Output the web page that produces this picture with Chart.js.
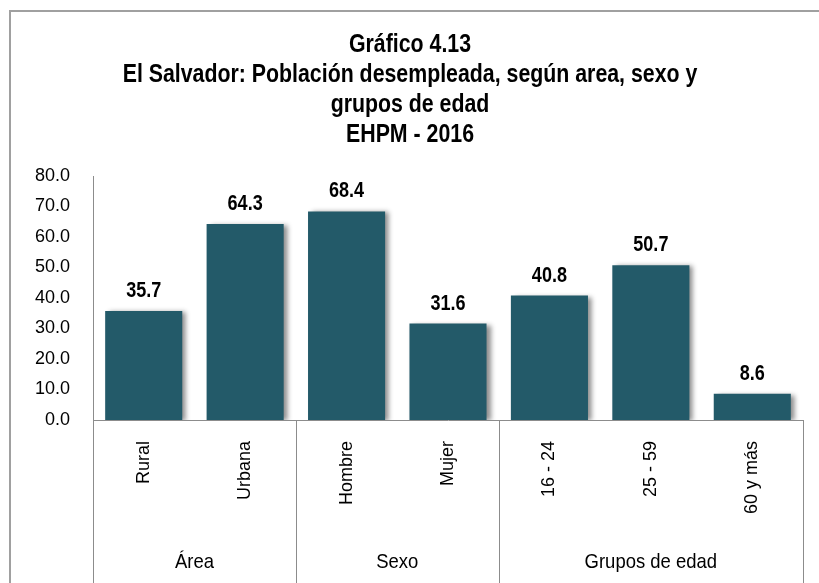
<!DOCTYPE html>
<html>
<head>
<meta charset="utf-8">
<script src="https://cdn.jsdelivr.net/npm/chart.js@4.4.1/dist/chart.umd.min.js"></script>
<style>
html,body{margin:0;padding:0;background:#fff;}
#wrap{position:relative;width:819px;height:583px;}
</style>
</head>
<body>
<div id="wrap"><canvas id="c" width="819" height="583"></canvas></div>
<script>
const categories = ["Rural", "Urbana", "Hombre", "Mujer", "16 - 24", "25 - 59", "60 y más"];
const values = [35.7, 64.3, 68.4, 31.6, 40.8, 50.7, 8.6];
const groupNames = ["Área", "Sexo", "Grupos de edad"];
const groupSizes = [2, 2, 3];
const titleLines = ["Gráfico 4.13", "El Salvador: Población desempleada, según area, sexo y", "grupos de edad", "EHPM - 2016"];

const SANS = "'Liberation Sans', Arial, sans-serif";
const AXIS_GRAY = '#8c8c8c';

function narrowText(ctx, text, x, y, font, sx) {
  ctx.save();
  ctx.font = font;
  ctx.translate(x, y);
  ctx.scale(sx, 1);
  ctx.fillText(text, 0, 0);
  ctx.restore();
}

const frame = {
  id: 'frame',
  beforeDraw(chart) {
    const ctx = chart.ctx;
    ctx.save();
    ctx.strokeStyle = '#a0a0a0';
    ctx.lineWidth = 2;
    ctx.strokeRect(10, 11, 830, 620);
    ctx.fillStyle = '#000';
    ctx.textAlign = 'center';
    ctx.textBaseline = 'alphabetic';
    const baselines = [52, 82, 112, 142];
    titleLines.forEach((t, i) => {
      narrowText(ctx, t, 410, baselines[i], "bold 26px " + SANS, 0.82);
    });
    ctx.restore();
  }
};

const shadow = {
  id: 'shadow',
  beforeDatasetsDraw(chart) {
    const ctx = chart.ctx;
    ctx.save();
    ctx.shadowColor = 'rgba(0,0,0,0.45)';
    ctx.shadowBlur = 5;
    ctx.shadowOffsetX = 4;
    ctx.shadowOffsetY = 1;
  },
  afterDatasetsDraw(chart) {
    chart.ctx.restore();
    const ctx = chart.ctx;
    const meta = chart.getDatasetMeta(0);
    ctx.save();
    ctx.fillStyle = '#000';
    ctx.textAlign = 'center';
    ctx.textBaseline = 'alphabetic';
    meta.data.forEach((bar, i) => {
      narrowText(ctx, values[i].toFixed(1), bar.x, bar.y - 14, "bold 22px " + SANS, 0.82);
    });
    ctx.restore();
  }
};

const groups = {
  id: 'groups',
  afterDraw(chart) {
    const ctx = chart.ctx;
    const xs = chart.scales.x;
    const area = chart.chartArea;
    const step = xs.getPixelForValue(1) - xs.getPixelForValue(0);
    ctx.save();
    ctx.strokeStyle = AXIS_GRAY;
    ctx.lineWidth = 1;
    let idx = 0;
    const bottom = chart.height;
    const bounds = [];
    groupSizes.forEach((n, g) => {
      const x0 = xs.getPixelForValue(idx) - step / 2;
      const x1 = xs.getPixelForValue(idx + n - 1) + step / 2;
      bounds.push(x0);
      if (g === groupSizes.length - 1) bounds.push(x1);
      ctx.fillStyle = '#000';
      ctx.textAlign = 'center';
      ctx.textBaseline = 'alphabetic';
      narrowText(ctx, groupNames[g], (x0 + x1) / 2, 568, "21px " + SANS, 0.88);
      idx += n;
    });
    bounds.forEach(b => {
      const xx = Math.round(b) + 0.5;
      ctx.beginPath();
      ctx.moveTo(xx, area.bottom);
      ctx.lineTo(xx, bottom);
      ctx.stroke();
    });
    ctx.restore();
  }
};

new Chart(document.getElementById('c'), {
  type: 'bar',
  data: {
    labels: categories,
    datasets: [{
      data: values,
      backgroundColor: '#235a69',
      borderWidth: 0,
      barPercentage: 0.76,
      categoryPercentage: 1.0
    }]
  },
  options: {
    responsive: false,
    animation: false,
    devicePixelRatio: 1,
    layout: { padding: { left: 0, right: 16, top: 176, bottom: 0 } },
    plugins: {
      legend: { display: false },
      tooltip: { enabled: false },
      title: { display: false }
    },
    scales: {
      x: {
        grid: { display: false, drawTicks: false },
        border: { display: true, color: AXIS_GRAY, width: 1 },
        ticks: {
          minRotation: 90, maxRotation: 90, autoSkip: false,
          padding: 21,
          color: '#000',
          font: { family: SANS, size: 18 }
        },
        afterFit(s) { s.height = 163; }
      },
      y: {
        min: 0, max: 80,
        grid: { display: false, drawTicks: false },
        border: { display: true, color: AXIS_GRAY, width: 1 },
        ticks: {
          stepSize: 10,
          padding: 23,
          color: '#000',
          font: { family: SANS, size: 18 },
          callback: v => Number(v).toFixed(1)
        },
        afterFit(s) { s.width = 93; }
      }
    }
  },
  plugins: [frame, shadow, groups]
});
</script>
</body>
</html>
